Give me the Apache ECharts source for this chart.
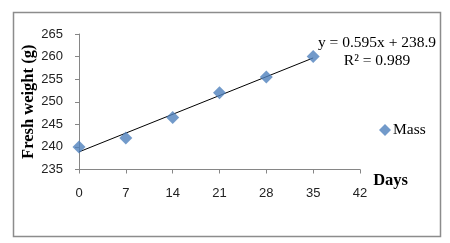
<!DOCTYPE html>
<html><head><meta charset="utf-8">
<script src="https://cdn.jsdelivr.net/npm/echarts@6/dist/echarts.min.js"></script>
<style>html,body{margin:0;padding:0;background:#fff}#c{width:450px;height:243px}</style>
</head><body><div id="c"></div>
<script>
var days = [0, 7, 14, 21, 28, 35];
var mass = [240, 242, 246.5, 252, 255.5, 260];
var trendDays = [0, 35];
var trendMass = [238.9, 259.7];
var xTicks = [0, 7, 14, 21, 28, 35, 42];
var yTicks = [235, 240, 245, 250, 255, 260, 265];
var equationText = 'y = 0.595x + 238.9';
var r2Text = 'R² = 0.989';

var chart = echarts.init(document.getElementById('c'), null, {renderer: 'canvas'});
var axisColor = '#868686';
chart.setOption({
  animation: false,
  grid: {left: 79, right: 90, top: 34, bottom: 73.5, containLabel: false},
  xAxis: {
    type: 'value', min: xTicks[0], max: xTicks[xTicks.length - 1], interval: 7,
    name: 'Days', nameLocation: 'end', nameGap: 13,
    nameTextStyle: {fontFamily: 'Liberation Serif', fontWeight: 'bold', fontSize: 16.5, color: '#000', verticalAlign: 'top', padding: [3, 0, 0, 0]},
    axisLine: {lineStyle: {color: axisColor, width: 1}},
    axisTick: {length: 4, lineStyle: {color: axisColor}},
    axisLabel: {fontFamily: 'Liberation Sans', fontSize: 13, color: '#222', margin: 17},
    splitLine: {show: false}
  },
  yAxis: {
    type: 'value', min: yTicks[0], max: yTicks[yTicks.length - 1], interval: 5,
    name: 'Fresh weight (g)', nameLocation: 'middle', nameGap: 42, nameMoveOverlap: false,
    nameTextStyle: {fontFamily: 'Liberation Serif', fontWeight: 'bold', fontSize: 16.5, color: '#000'},
    axisLine: {show: true, lineStyle: {color: axisColor, width: 1}},
    axisTick: {show: true, length: 4, lineStyle: {color: axisColor}},
    axisLabel: {fontFamily: 'Liberation Sans', fontSize: 13, color: '#222', margin: 16},
    splitLine: {show: false}
  },
  legend: {
    data: [{name: 'Mass', icon: 'diamond'}],
    left: 374, top: 117, itemWidth: 12, itemHeight: 12,
    textStyle: {fontFamily: 'Liberation Serif', fontSize: 15.5, color: '#000', padding: [0, 0, 0, -3]}
  },
  series: [
    {
      name: 'Mass', type: 'scatter', symbol: 'diamond', symbolSize: 13,
      itemStyle: {color: '#4F81BD'},
      data: days.map(function (d, i) { return [d, mass[i]]; }), z: 3
    },
    {
      name: 'trend', type: 'line', symbol: 'none', silent: true,
      lineStyle: {color: '#000', width: 1},
      data: trendDays.map(function (d, i) { return [d, trendMass[i]]; }), z: 2
    }
  ],
  graphic: [
    {type: 'rect', shape: {x: 13.5, y: 12.5, width: 427, height: 224}, style: {fill: 'none', stroke: '#8c8c8c', lineWidth: 1.5}, silent: true},
    {type: 'text', x: 377, y: 43, style: {text: equationText, font: '15.5px "Liberation Serif"', fill: '#000', textAlign: 'center', textVerticalAlign: 'middle'}},
    {type: 'text', x: 377, y: 60.5, style: {text: r2Text, font: '15.5px "Liberation Serif"', fill: '#000', textAlign: 'center', textVerticalAlign: 'middle'}}
  ]
});
</script></body></html>
